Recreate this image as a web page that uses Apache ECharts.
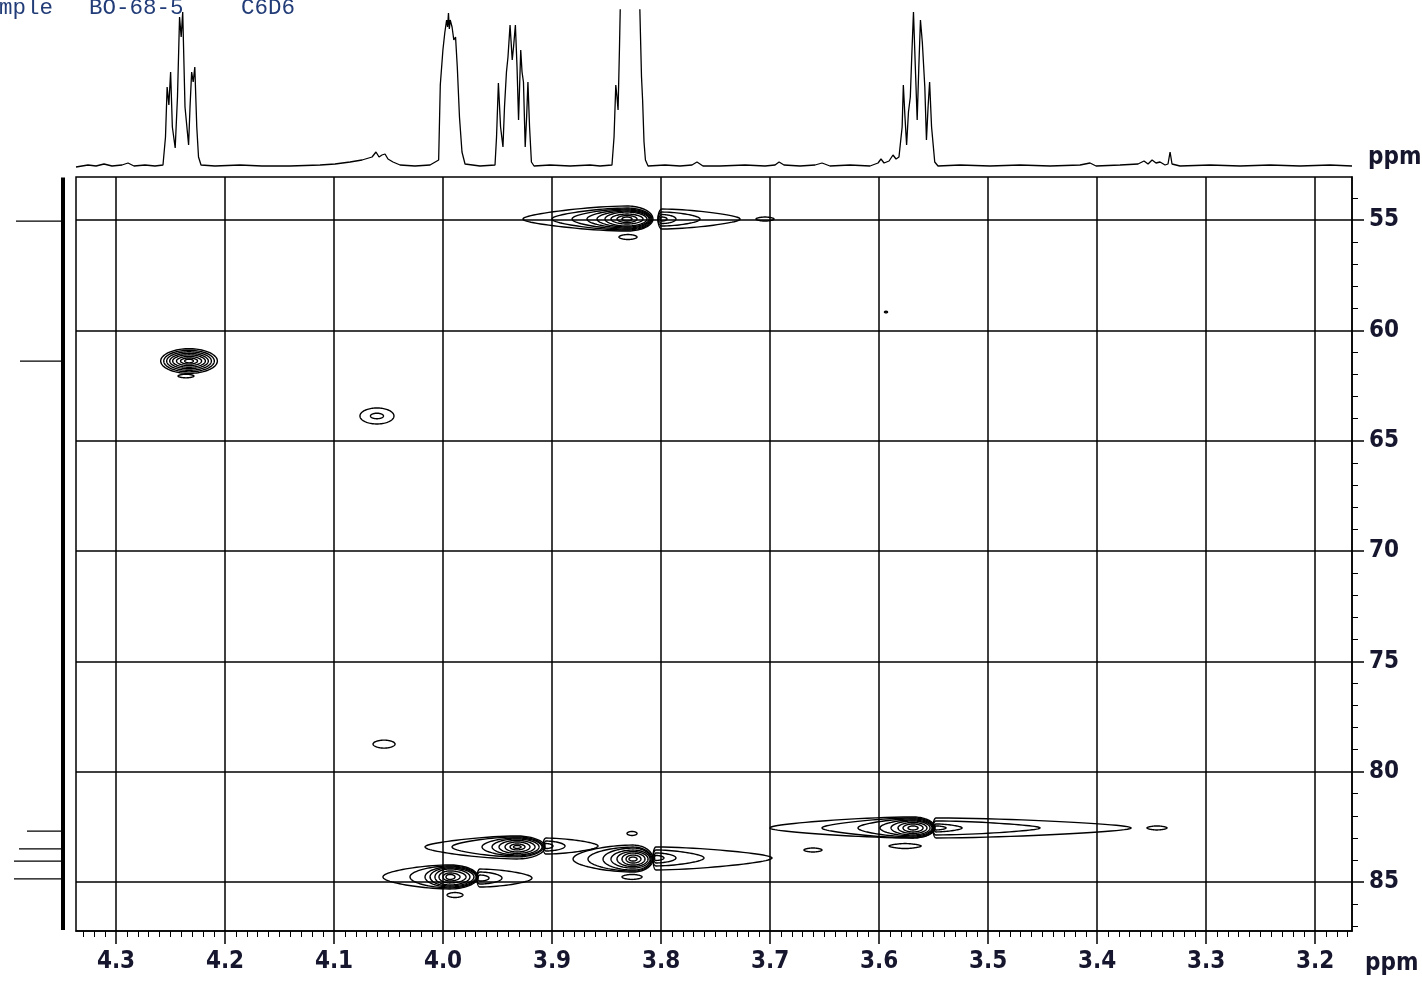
<!DOCTYPE html>
<html><head><meta charset="utf-8">
<script src="https://cdn.jsdelivr.net/npm/echarts@6/dist/echarts.min.js"></script>
<style>html,body{margin:0;padding:0;background:#fff}#c{width:1422px;height:981px}</style>
</head><body><div id="c"></div>
<script>
// ---- axis ranges (ppm) ----
const hMin = 3.1661, hMax = 4.3367;   // 1H, drawn right -> left
const cMin = 53.05, cMax = 87.22;     // 13C, drawn top -> bottom

// ---- tick labels ----
const hTicks = [3.2, 3.3, 3.4, 3.5, 3.6, 3.7, 3.8, 3.9, 4.0, 4.1, 4.2, 4.3];
const cTicks = [55, 60, 65, 70, 75, 80, 85];

// ---- header texts ----
const headerTexts = [['mple', -1], ['BO-68-5', 89], ['C6D6', 241]];
const axisUnit = 'ppm';

// ---- 1D 1H trace along the top: [ppm, intensity] ----
const protonTrace = [
 [4.3367,0],[4.3257,2],[4.3183,1],[4.3110,3],[4.3037,1],[4.2945,2],[4.2890,4],[4.2835,1],[4.2734,2],[4.2642,1],
 [4.2569,2],[4.2546,30],[4.2531,80],[4.2515,62],[4.2499,95],[4.2483,40],[4.2457,19],[4.2436,70],[4.2417,150],[4.2402,130],
 [4.2388,155],[4.2367,60],[4.2334,22],[4.2321,60],[4.2306,95],[4.2292,85],[4.2277,100],[4.2259,40],[4.2243,10],[4.2220,2],
 [4.2092,1],[4.1862,2],[4.1661,1],[4.1404,1],[4.1128,2],[4.0991,3],[4.0853,5],[4.0743,7],[4.0651,10],[4.0615,15],
 [4.0587,10],[4.0560,12],[4.0532,13],[4.0505,8],[4.0459,5],[4.0394,2],[4.0257,1],[4.0119,2],
 [4.0040,7],[4.0025,82],[4.0001,117],[3.9984,134],[3.9967,147],[3.9958,140],[3.9950,154],[3.9942,138],[3.9934,147],[3.9917,140],[3.9901,127],[3.9885,130],
 [3.9869,100],[3.9849,50],[3.9826,15],[3.9798,3],[3.9661,1],[3.9523,2],
 [3.9509,30],[3.9492,84],[3.9472,40],[3.9450,20],[3.9436,60],[3.9418,95],[3.9404,110],[3.9385,142],[3.9365,107],[3.9353,120],
 [3.9336,142],[3.9321,100],[3.9307,47],[3.9287,117],[3.9275,95],[3.9262,85],[3.9246,20],[3.9233,50],[3.9221,85],[3.9206,40],
 [3.9189,5],[3.9165,1],[3.9018,2],[3.8835,1],[3.8651,2],[3.8560,1],
 [3.8450,2],[3.8431,30],[3.8415,82],[3.8404,70],[3.8394,57],[3.8381,120],[3.8372,170],[3.8349,260],[3.8284,400],[3.8220,260],
 [3.8197,170],[3.8189,134],[3.8179,90],[3.8169,67],[3.8156,25],[3.8143,7],[3.8119,1],
 [3.7963,2],[3.7826,1],[3.7716,2],[3.7670,5],[3.7615,1],[3.7459,1],[3.7229,2],[3.7046,1],[3.6954,2],[3.6917,5],
 [3.6872,2],[3.6725,1],[3.6587,2],[3.6523,4],[3.6450,1],[3.6266,2],[3.6083,1],[3.6009,4],[3.5982,8],[3.5954,4],
 [3.5908,6],[3.5872,12],[3.5844,8],[3.5817,10],
 [3.5788,40],[3.5777,82],[3.5762,50],[3.5747,22],[3.5730,55],[3.5713,70],[3.5700,110],[3.5684,155],[3.5667,100],[3.5650,47],
 [3.5635,100],[3.5620,147],[3.5603,125],[3.5595,127],[3.5580,80],[3.5565,27],[3.5550,60],[3.5536,85],[3.5518,40],[3.5489,5],
 [3.5459,1],[3.5257,2],[3.4982,1],[3.4706,2],[3.4431,1],[3.4156,2],[3.4064,4],[3.4009,1],[3.3789,2],[3.3624,3],
 [3.3569,6],[3.3532,3],[3.3495,7],[3.3459,4],[3.3422,5],[3.3376,2],[3.3349,3],[3.3330,15],[3.3312,3],[3.3239,1],
 [3.2963,2],[3.2688,1],[3.2413,2],[3.2138,1],[3.1862,2],[3.1661,1]
];

// ---- 13C projection on the left: [ppm, intensity] ----
const carbonPeaks = [[55.05,47],[61.39,43],[82.69,36],[83.50,44],[84.05,49],[84.86,49]];

// ---- HSQC contour levels: [1H ppm, 13C ppm, half-width toward high 1H, half-width toward low 1H, half-height up, half-height down] ----
const contours = [
 // 3.83 / 55.0
 [3.8312,54.955,0.0954,0.0238,0.589,0.544],[3.8312,54.955,0.0688,0.0229,0.498,0.498],[3.8312,54.955,0.0504,0.0220,0.453,0.453],
 [3.8312,54.955,0.0367,0.0211,0.408,0.408],[3.8312,54.955,0.0275,0.0202,0.362,0.362],[3.8312,54.955,0.0202,0.0183,0.317,0.317],
 [3.8312,54.955,0.0147,0.0147,0.227,0.227],[3.8312,54.955,0.0092,0.0092,0.159,0.159],[3.8312,54.955,0.0046,0.0046,0.091,0.091],
 [3.7991,54.955,0.0037,0.0716,0.453,0.453],[3.7991,54.955,0.0037,0.0349,0.317,0.317],[3.7991,54.955,0.0028,0.0128,0.204,0.204],
 [3.7991,54.955,0.0018,0.0046,0.091,0.091],
 [3.7046,54.955,0.0083,0.0083,0.091,0.091],[3.8303,55.77,0.0083,0.0083,0.113,0.113],
 // 4.23 / 61.4
 [4.2330,61.39,0.0260,0.0260,0.560,0.560],[4.2330,61.39,0.0232,0.0232,0.490,0.490],[4.2330,61.39,0.0205,0.0205,0.420,0.420],
 [4.2330,61.39,0.0177,0.0177,0.350,0.350],[4.2330,61.39,0.0150,0.0150,0.282,0.282],[4.2330,61.39,0.0115,0.0115,0.210,0.210],
 [4.2330,61.39,0.0078,0.0078,0.140,0.140],[4.2330,61.39,0.0040,0.0040,0.082,0.082],[4.2358,62.07,0.0073,0.0073,0.082,0.082],
 // 4.06 / 63.9
 [4.0606,63.88,0.0156,0.0156,0.362,0.362],[4.0606,63.88,0.0060,0.0060,0.125,0.125],
 // 4.05 / 78.8
 [4.0541,78.75,0.0101,0.0101,0.181,0.181],
 [3.5936,59.17,0.0014,0.0014,0.036,0.036],
 // 3.99 / 84.8
 [3.9936,84.77,0.0615,0.0257,0.544,0.544],[3.9936,84.77,0.0367,0.0248,0.498,0.498],[3.9936,84.77,0.0229,0.0239,0.453,0.453],
 [3.9936,84.77,0.0183,0.0220,0.408,0.408],[3.9936,84.77,0.0138,0.0183,0.362,0.362],[3.9936,84.77,0.0101,0.0147,0.272,0.272],
 [3.9936,84.77,0.0064,0.0092,0.181,0.181],[3.9936,84.77,0.0037,0.0046,0.113,0.113],
 [3.9661,84.82,0.0028,0.0477,0.408,0.408],[3.9661,84.82,0.0028,0.0202,0.272,0.272],[3.9661,84.82,0.0018,0.0083,0.136,0.136],
 [3.9890,85.59,0.0073,0.0073,0.113,0.113],
 // 3.93 / 83.4
 [3.9321,83.41,0.0844,0.0257,0.498,0.544],[3.9321,83.41,0.0596,0.0239,0.453,0.453],[3.9321,83.41,0.0321,0.0229,0.408,0.408],
 [3.9321,83.41,0.0229,0.0202,0.362,0.362],[3.9321,83.41,0.0165,0.0165,0.295,0.295],[3.9321,83.41,0.0110,0.0119,0.227,0.227],
 [3.9321,83.41,0.0064,0.0073,0.136,0.136],[3.9321,83.41,0.0032,0.0037,0.068,0.068],
 [3.9055,83.37,0.0028,0.0477,0.362,0.362],[3.9055,83.37,0.0018,0.0174,0.227,0.227],[3.9055,83.37,0.0014,0.0064,0.113,0.113],
 [3.8266,82.80,0.0046,0.0046,0.091,0.091],
 // 3.83 / 84.0
 [3.8257,83.96,0.0550,0.0183,0.634,0.589],[3.8257,83.96,0.0413,0.0174,0.544,0.544],[3.8257,83.96,0.0275,0.0165,0.498,0.498],
 [3.8257,83.96,0.0202,0.0156,0.408,0.408],[3.8257,83.96,0.0147,0.0138,0.340,0.340],[3.8257,83.96,0.0101,0.0110,0.272,0.272],
 [3.8257,83.96,0.0064,0.0073,0.181,0.181],[3.8257,83.96,0.0037,0.0037,0.091,0.091],
 [3.8046,83.91,0.0028,0.1064,0.498,0.544],[3.8046,83.91,0.0028,0.0440,0.362,0.362],[3.8046,83.91,0.0018,0.0183,0.227,0.227],
 [3.8046,83.91,0.0014,0.0073,0.113,0.113],
 [3.8266,84.77,0.0092,0.0092,0.113,0.113],
 // 3.57 / 82.6
 [3.5688,82.55,0.1312,0.0202,0.498,0.453],[3.5688,82.55,0.0835,0.0193,0.453,0.453],[3.5688,82.55,0.0505,0.0183,0.408,0.408],
 [3.5688,82.55,0.0303,0.0174,0.362,0.362],[3.5688,82.55,0.0202,0.0156,0.317,0.317],[3.5688,82.55,0.0138,0.0128,0.249,0.249],
 [3.5688,82.55,0.0092,0.0092,0.181,0.181],[3.5688,82.55,0.0046,0.0046,0.091,0.091],
 [3.5477,82.55,0.0028,0.1789,0.453,0.453],[3.5477,82.55,0.0028,0.0954,0.317,0.317],[3.5477,82.55,0.0018,0.0239,0.181,0.181],
 [3.5477,82.55,0.0014,0.0092,0.091,0.091],
 [3.3450,82.55,0.0092,0.0092,0.091,0.091],[3.5761,83.37,0.0147,0.0147,0.113,0.113],[3.6606,83.55,0.0083,0.0083,0.091,0.091]
];

const labelFont = '"Liberation Sans Narrow","Arial Narrow","DejaVu Sans Condensed",sans-serif';
const labelColor = '#16162e';

function renderContour(params, api) {
  const c = api.coord([api.value(0), api.value(1)]);
  const s = api.size([1, 1]);
  const rl = api.value(2) * s[0], rr = api.value(3) * s[0];
  const rt = api.value(4) * s[1], rb = api.value(5) * s[1];
  const pts = [];
  const n = 96;
  for (let i = 0; i < n; i++) {
    const t = i / n * 2 * Math.PI;
    const ct = Math.cos(t), st = Math.sin(t);
    const rx = ct < 0 ? rl : rr;
    const ry = st < 0 ? rt : rb;
    const k = Math.min(1, Math.max(0, (rx / ry - 2) / 6));
    const taper = 1 - 0.35 * k * Math.pow(Math.abs(ct), 1.5);
    pts.push([c[0] + rx * ct, c[1] + ry * st * taper]);
  }
  return { type: 'polygon', shape: { points: pts }, style: { fill: 'none', stroke: '#000', lineWidth: 1.4 } };
}

const chart = echarts.init(document.getElementById('c'), null, { renderer: 'canvas' });

const series = [
  { type: 'custom', xAxisIndex: 0, yAxisIndex: 0, renderItem: renderContour, data: contours, clip: true, silent: true },
  { type: 'line', xAxisIndex: 1, yAxisIndex: 1, data: protonTrace, symbol: 'none', lineStyle: { color: '#000', width: 1.3 }, clip: true, silent: true },
  { type: 'line', xAxisIndex: 2, yAxisIndex: 2, data: [[0, cMin + 0.02], [0, cMax - 0.05]], symbol: 'none', lineStyle: { color: '#000', width: 4 }, silent: true }
];
carbonPeaks.forEach(p => series.push({
  type: 'line', xAxisIndex: 2, yAxisIndex: 2, data: [[0, p[0]], [p[1], p[0]]], symbol: 'none',
  lineStyle: { color: '#000', width: 1.3 }, silent: true
}));

chart.setOption({
  animation: false,
  backgroundColor: '#fff',
  grid: [
    { left: 76, top: 177, width: 1276, height: 754, show: true, borderColor: '#000', borderWidth: 1.5, containLabel: false },
    { left: 76, top: 10, width: 1276, height: 160, containLabel: false },
    { left: 4, top: 177, width: 62, height: 754, containLabel: false }
  ],
  xAxis: [
    { gridIndex: 0, type: 'value', inverse: true, min: hMin, max: hMax, splitNumber: 12, position: 'bottom',
      axisLine: { show: true, lineStyle: { color: '#000', width: 1.5 } },
      axisTick: { show: true, inside: false, length: 13, customValues: hTicks, lineStyle: { color: '#000', width: 1.5 } },
      minorTick: { show: true, splitNumber: 10, length: 6, lineStyle: { color: '#000', width: 1 } },
      splitLine: { show: true, lineStyle: { color: '#000', width: 1.5 } },
      axisLabel: { customValues: hTicks, showMinLabel: true, showMaxLabel: true, margin: 19, fontSize: 24, fontWeight: 'bold',
        color: labelColor, fontFamily: labelFont, formatter: v => v.toFixed(1) } },
    { gridIndex: 1, type: 'value', inverse: true, min: hMin, max: hMax, show: false },
    { gridIndex: 2, type: 'value', inverse: true, min: -3, max: 59, show: false }
  ],
  yAxis: [
    { gridIndex: 0, type: 'value', inverse: true, min: cMin, max: cMax, splitNumber: 7, position: 'right',
      axisLine: { show: true, lineStyle: { color: '#000', width: 1.5 } },
      axisTick: { show: true, inside: false, length: 12, customValues: cTicks, lineStyle: { color: '#000', width: 1.5 } },
      minorTick: { show: true, splitNumber: 5, length: 6, lineStyle: { color: '#000', width: 1 } },
      splitLine: { show: true, lineStyle: { color: '#000', width: 1.5 } },
      axisLabel: { customValues: cTicks, showMinLabel: true, showMaxLabel: true, margin: 17, fontSize: 24, fontWeight: 'bold',
        color: labelColor, fontFamily: labelFont, formatter: v => String(Math.round(v)) } },
    { gridIndex: 1, type: 'value', min: -3, max: 157, show: false },
    { gridIndex: 2, type: 'value', inverse: true, min: cMin, max: cMax, show: false }
  ],
  graphic: headerTexts.map(t => ({
    type: 'text', x: t[1], y: 8, silent: true,
    style: { text: t[0], fontSize: 22.5, fontFamily: '"Liberation Mono","DejaVu Sans Mono",monospace', fill: '#223c78', textVerticalAlign: 'middle' }
  })).concat([
    { type: 'text', x: 1368, y: 158, silent: true,
      style: { text: axisUnit, fontSize: 24, fontWeight: 'bold', fontFamily: labelFont, fill: labelColor, textVerticalAlign: 'middle' } },
    { type: 'text', x: 1365, y: 964, silent: true,
      style: { text: axisUnit, fontSize: 24, fontWeight: 'bold', fontFamily: labelFont, fill: labelColor, textVerticalAlign: 'middle' } }
  ]),
  series: series
});
</script>
</body></html>
